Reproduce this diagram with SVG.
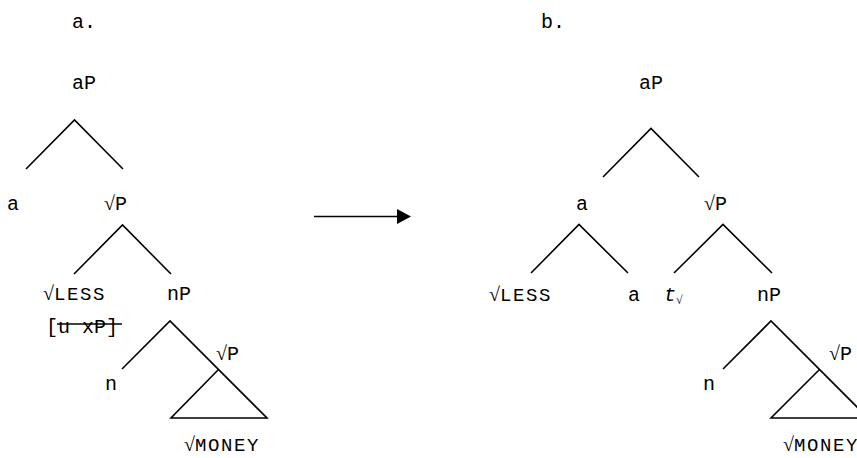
<svg xmlns="http://www.w3.org/2000/svg" width="857" height="458" viewBox="0 0 857 458">
<style>
text{font-family:"Liberation Mono","Courier New",monospace;font-size:20px;fill:#000}
.r{font-family:"Liberation Serif","Times New Roman",serif;font-size:20px}
.sc{font-family:"Liberation Mono","Courier New",monospace;font-size:19px;letter-spacing:1.6px}
.it{font-style:italic}
.sub{font-family:"Liberation Serif","Times New Roman",serif;font-size:12px}
line,polyline,polygon{stroke:#000;stroke-width:1.6;fill:none}
</style>
<defs>
<marker id="ah" markerWidth="14" markerHeight="15" refX="0" refY="7.5" orient="auto" markerUnits="userSpaceOnUse">
<polygon points="0,0 14,7.5 0,15" style="fill:#000;stroke:none"/>
</marker>
</defs>
<rect width="857" height="458" fill="#fff"/>
<text x="72" y="28">a.</text>
<text x="541" y="28">b.</text>
<g id="connectors">
<polyline points="26,169 74.5,120 123,169"/>
<polyline points="74,274 122.5,225 171,274"/>
<polyline points="122,369 170,321 267,418 171,418 218,370"/>
<line x1="314" y1="216.5" x2="397" y2="216.5" marker-end="url(#ah)"/>
<polyline points="603,177 651,128.5 699,177"/>
<polyline points="531,273 579,224.5 628,273"/>
<polyline points="674,273 723,224.5 772,273"/>
<polyline points="723,369 771,321 868,418 771,418 819,370"/>
</g>
<g id="a-aP"><text x="72" y="89">aP</text></g>
<g id="a-a"><text x="7" y="210">a</text></g>
<g id="a-rootP"><text x="104" y="210"><tspan class="r">√</tspan>P</text></g>
<g id="a-less"><text x="43" y="300"><tspan class="r">√</tspan><tspan class="sc">LESS</tspan></text>
<text x="46" y="333">[u  xP]</text><line x1="57" y1="324" x2="122" y2="324"/></g>
<g id="a-nP"><text x="167" y="300">nP</text></g>
<g id="a-n"><text x="105" y="390">n</text></g>
<g id="a-rootP2"><text x="216" y="360"><tspan class="r">√</tspan>P</text></g>
<g id="a-money"><text x="184" y="451"><tspan class="r">√</tspan><tspan class="sc">MONEY</tspan></text></g>
<g id="b-aP"><text x="639" y="89">aP</text></g>
<g id="b-a"><text x="576" y="210">a</text></g>
<g id="b-rootP"><text x="704" y="210"><tspan class="r">√</tspan>P</text></g>
<g id="b-less"><text x="489" y="301"><tspan class="r">√</tspan><tspan class="sc">LESS</tspan></text></g>
<g id="b-a2"><text x="628" y="301">a</text></g>
<g id="b-trace"><text x="664" y="301"><tspan class="it">t</tspan><tspan class="sub" dy="3">√</tspan></text></g>
<g id="b-nP"><text x="757" y="301">nP</text></g>
<g id="b-n"><text x="703" y="390">n</text></g>
<g id="b-rootP2"><text x="829" y="360"><tspan class="r">√</tspan>P</text></g>
<g id="b-money"><text x="783" y="451"><tspan class="r">√</tspan><tspan class="sc">MONEY</tspan></text></g>
</svg>
